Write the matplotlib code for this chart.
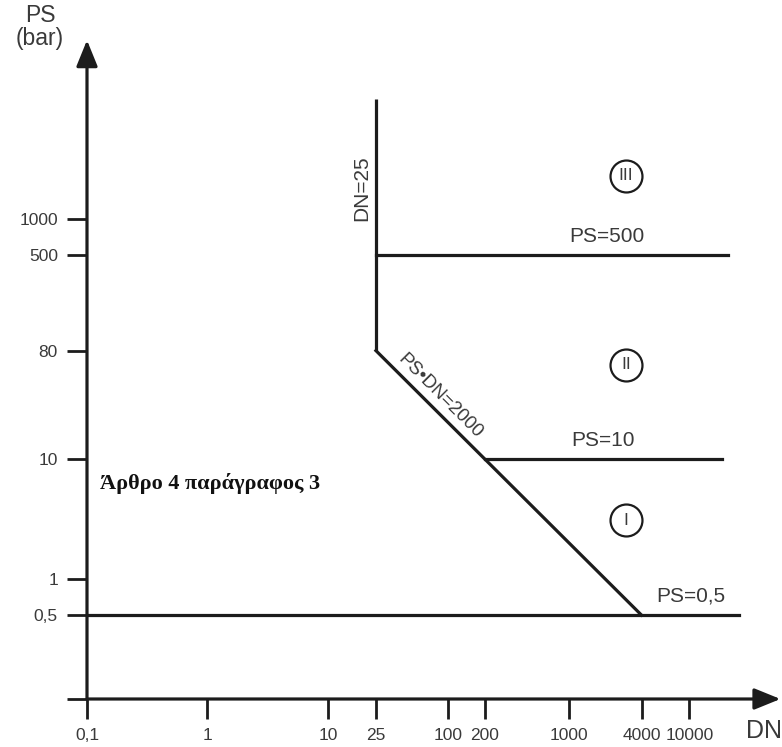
import numpy as np
import matplotlib
matplotlib.use('Agg')
import matplotlib.pyplot as plt

# tick values and labels
dn_ticks = [0.1, 1, 10, 25, 100, 200, 1000, 4000, 10000]
dn_labels = ['0,1', '1', '10', '25', '100', '200', '1000', '4000', '10000']
ps_ticks = [0.1, 0.5, 1, 10, 80, 500, 1000]
ps_labels = ['', '0,5', '1', '10', '80', '500', '1000']

# boundary lines (DN, PS)
dn25_dn = [25, 25]
dn25_ps = [80, 10000]
hyp_dn = [25, 200, 4000]
hyp_ps = [80, 10, 0.5]
ps500_dn = [25, 21000]
ps500_ps = [500, 500]
ps10_dn = [200, 18500]
ps10_ps = [10, 10]
ps05_dn = [0.1, 25800]
ps05_ps = [0.5, 0.5]

# category markers
cat_names = ['III', 'II', 'I']
cat_dn = [2970, 2970, 2970]
cat_ps = [2290, 61, 3.1]

LC = '#1c1c1c'
TC = '#3a3a3a'
plt.rcParams['font.family'] = ['Liberation Sans', 'DejaVu Sans']

fig = plt.figure(figsize=(7.82, 7.47), dpi=100)
ax = fig.add_axes([0, 0, 1, 1])
ax.set_xscale('log')
ax.set_yscale('log')
ax.set_xlim(10**-1.722, 10**4.768)
ax.set_ylim(10**-1.4, 10**4.825)

for s in ax.spines.values():
    s.set_visible(False)
ax.spines['left'].set_position(('data', 0.1))
ax.spines['bottom'].set_position(('data', 0.1))

ax.set_xticks(dn_ticks)
ax.set_xticklabels(dn_labels)
ax.set_yticks(ps_ticks)
ax.set_yticklabels(ps_labels)
ax.minorticks_off()
ax.tick_params(direction='out', length=14.4, width=2.0, color=LC, pad=6.5,
               labelsize=12.5, labelcolor=TC)

# axes with arrows
arr = dict(arrowstyle='-|>,head_length=16,head_width=6.5', mutation_scale=1,
           lw=2.3, color=LC, shrinkA=0, shrinkB=0)
ax.annotate('', xy=(0.1, 10**4.49), xytext=(0.1, 0.1), arrowprops=arr, annotation_clip=False)
ax.annotate('', xy=(10**4.755, 0.1), xytext=(0.1, 0.1), arrowprops=arr, annotation_clip=False)

lw = 2.3
ax.plot(dn25_dn, dn25_ps, color=LC, lw=lw, solid_capstyle='butt')
ax.plot(hyp_dn, hyp_ps, color=LC, lw=lw, solid_joinstyle='miter')
ax.plot(ps500_dn, ps500_ps, color=LC, lw=lw)
ax.plot(ps10_dn, ps10_ps, color=LC, lw=lw)
ax.plot(ps05_dn, ps05_ps, color=LC, lw=lw)

# labels
ax.text(2070, 600, 'PS=500', fontsize=15, color=TC, ha='center', va='bottom')
ax.text(1900, 11.9, 'PS=10', fontsize=15, color=TC, ha='center', va='bottom')
ax.text(10300, 0.6, 'PS=0,5', fontsize=15, color=TC, ha='center', va='bottom')
ax.text(19.2, 1800, 'DN=25', fontsize=15, color=TC, ha='center', va='center', rotation=90)
ax.text(85, 33, 'PS•DN=2000', fontsize=13.5, color=TC, ha='center', va='center',
        rotation=-45, rotation_mode='anchor')

for name, x, y in zip(cat_names, cat_dn, cat_ps):
    ax.plot(x, y, 'o', ms=23, mfc='none', mec=LC, mew=1.6)
    ax.text(x, y, name, fontsize=12.5, color=TC, ha='center', va='center')

ax.text(0.128, 6.3, 'Άρθρο 4 παράγραφος 3', fontsize=16, fontweight='bold',
        family='Liberation Serif', color='#111111', ha='left', va='center')

# axis titles
ax.text(0.0407, 10**4.6, 'PS\n(bar)', fontsize=16.5, color=TC, ha='center', va='center',
        linespacing=1.0)
ax.text(10**4.62, 10**-1.27, 'DN', fontsize=18, color=TC, ha='center', va='center')

fig.savefig('out.png', dpi=100)
